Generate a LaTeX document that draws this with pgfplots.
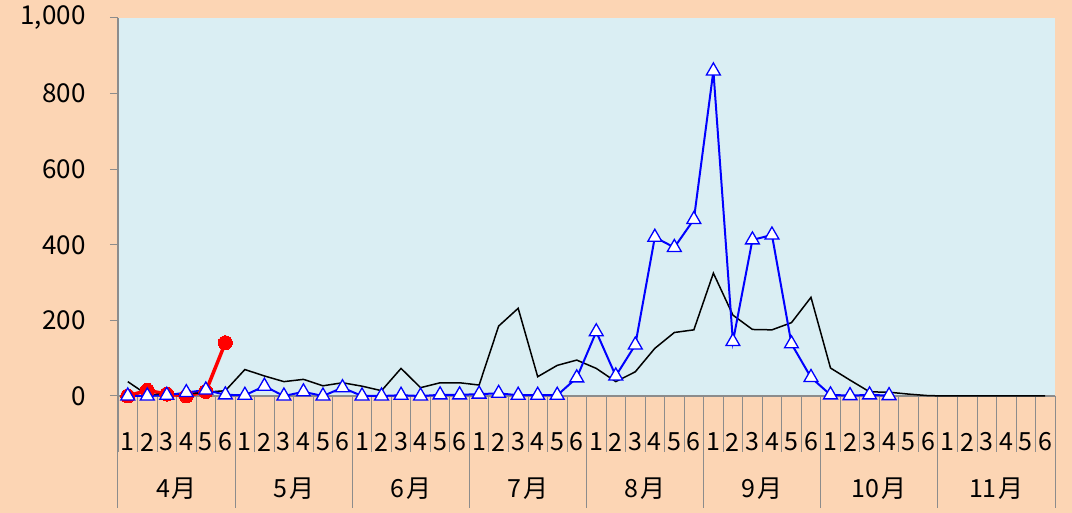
\documentclass[border=0pt]{standalone}
\usepackage{fontspec}
\setmainfont{Noto Sans CJK JP}
\usepackage{pgfplots}
\pgfplotsset{compat=1.18}
\definecolor{peach}{HTML}{FCD5B4}
\definecolor{paleblue}{HTML}{DAEEF3}
\definecolor{sepgray}{HTML}{8C8C8C}
\begin{document}
\begin{tikzpicture}[x=1pt,y=1pt]
\fill[peach] (0,0) rectangle (1072,513);
\begin{axis}[
  at={(118pt,117pt)}, anchor=south west,
  scale only axis, width=937pt, height=378pt,
  xmin=-0.5, xmax=47.5, ymin=0, ymax=1000,
  clip=false,
  axis background/.style={fill=paleblue},
  axis x line*=bottom, axis y line*=left,
  axis line style={sepgray, line width=1.5pt, -},
  tick align=outside, major tick length=8pt,
  ytick={0,200,400,600,800,1000},
  ytick style={sepgray, line width=1pt},
  xtick={0,...,47},
  xticklabels={1,2,3,4,5,6,1,2,3,4,5,6,1,2,3,4,5,6,1,2,3,4,5,6,1,2,3,4,5,6,1,2,3,4,5,6,1,2,3,4,5,6,1,2,3,4,5,6},
  xtick style={draw=none},
  xticklabel style={font=\fontsize{25}{25}\selectfont, anchor=center, yshift=-38pt},
  yticklabel style={font=\fontsize{26}{26}\selectfont, anchor=east, xshift=-21pt},
  /pgf/number format/1000 sep={,},
  /pgf/number format/assume math mode=true,
]
\pgfplotsinvokeforeach{0,...,48}{\draw[sepgray, line width=0.8pt] (axis cs:{#1-0.5},0) -- ++(0pt,-56pt);}
\pgfplotsinvokeforeach{0,...,8}{\draw[sepgray, line width=1pt] (axis cs:{#1*6-0.5},0) -- ++(0pt,-112pt);}
\tikzset{mlab/.style={yshift=-93pt, font=\fontsize{25}{25}\selectfont}}
\node[mlab] at (axis cs:2.5,0) {4\hspace{2pt}月};
\node[mlab] at (axis cs:8.5,0) {5\hspace{2pt}月};
\node[mlab] at (axis cs:14.5,0) {6\hspace{2pt}月};
\node[mlab] at (axis cs:20.5,0) {7\hspace{2pt}月};
\node[mlab] at (axis cs:26.5,0) {8\hspace{2pt}月};
\node[mlab] at (axis cs:32.5,0) {9\hspace{2pt}月};
\node[mlab] at (axis cs:38.5,0) {10\hspace{2pt}月};
\node[mlab] at (axis cs:44.5,0) {11\hspace{2pt}月};
% this year (red)
\addplot[red, line width=3.5pt, mark=*, mark size=7pt, mark options={fill=red, draw=red, line width=0pt}] coordinates {
(0,0) (1,15) (2,5) (3,0) (4,12) (5,141)};
% average (black)
\addplot[black, line width=1.5pt, no markers] coordinates {
(0,38) (1,3) (2,5) (3,5) (4,10) (5,14)
(6,70) (7,53) (8,38) (9,44) (10,27) (11,35)
(12,26) (13,14) (14,73) (15,22) (16,35) (17,35)
(18,29) (19,185) (20,232) (21,51) (22,81) (23,95)
(24,73) (25,38) (26,64) (27,126) (28,168) (29,175)
(30,325) (31,214) (32,176) (33,175) (34,194) (35,261)
(36,74) (37,42) (38,11) (39,10) (40,5) (41,1)
(42,0) (43,0) (44,0) (45,0) (46,0) (47,0)};
% last year (blue)
\addplot[blue, line width=2pt, mark=triangle*, mark size=8pt, mark options={fill=white, draw=blue, line width=1.3pt}] coordinates {
(0,0) (1,0) (2,2) (3,9) (4,16) (5,3)
(6,2) (7,26) (8,0) (9,11) (10,0) (11,22)
(12,0) (13,0) (14,2) (15,0) (16,3) (17,3)
(18,5) (19,7) (20,2) (21,2) (22,2) (23,48)
(24,170) (25,53) (26,135) (27,420) (28,393) (29,467)
(30,860) (31,144) (32,413) (33,426) (34,138) (35,49)
(36,3) (37,1) (38,3) (39,1)};
\end{axis}
\pgfresetboundingbox
\useasboundingbox (0,0) rectangle (1072,513);
\end{tikzpicture}
\end{document}
